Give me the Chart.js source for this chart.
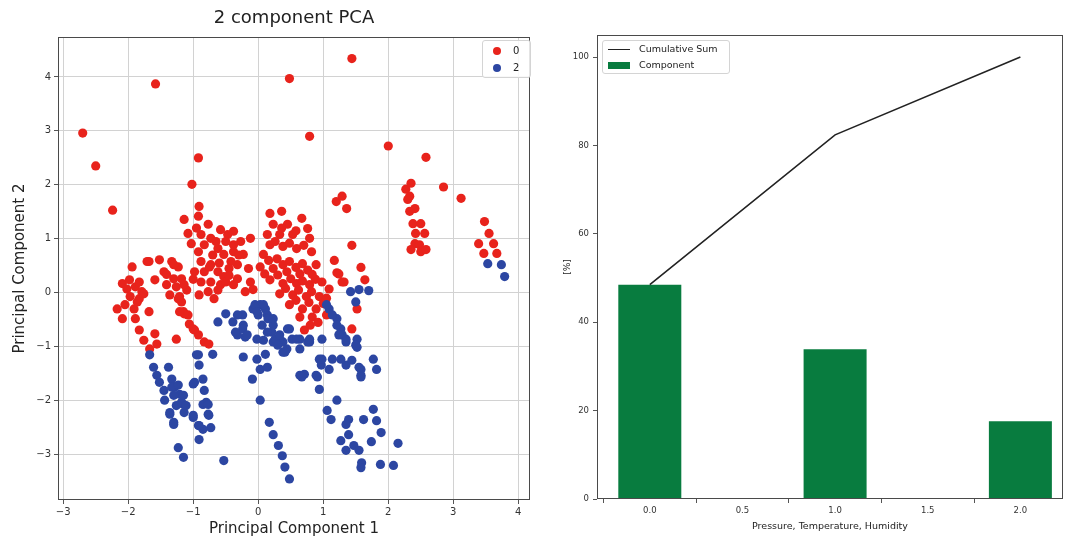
<!DOCTYPE html>
<html lang="en">
<head>
    <meta charset="UTF-8">
    <title>pca</title>
    <style>
        body { margin: 0; background: #fff; font-family: "DejaVu Sans", sans-serif; color: #222; }
        #app { position: relative; width: 1067px; height: 537px; overflow: hidden; }
        .panel { position: absolute; top: 0; }
        #pca_title { position: absolute; left: 58px; width: 472px; top: 6px; text-align: center; font-size: 18px; }
        .legend { position: absolute; background: rgba(255,255,255,0.85); border: 1px solid #d4d4d4; border-radius: 3px; font-size: 10px; }
        .legend div { height: 17px; line-height: 17px; white-space: nowrap; }
        .dot { display: inline-block; width: 8px; height: 8px; border-radius: 50%; margin: 0 12px 0 10px; vertical-align: -1px; }
        .swatch { display: inline-block; width: 22px; margin: 0 9px 0 5px; vertical-align: middle; }
    </style>
</head>
<body>
    <div id="app">
        <div class="panel" style="left:0;width:540px;height:537px">
            <canvas id="pca_chart" width="540" height="537"></canvas>
        </div>
        <div id="pca_title">2 component PCA</div>
        <div class="legend" id="pca_legend" style="left:482px;top:40px;width:47px;padding:1px 0"></div>

        <div class="panel" style="left:540px;width:527px;height:537px">
            <canvas id="var_chart" width="527" height="537"></canvas>
        </div>
        <div class="legend" id="var_legend" style="left:602px;top:40px;width:126px;padding:0;font-size:9.5px"></div>
    </div>

    <script src="https://cdn.jsdelivr.net/npm/chart.js"></script>

    <script>
        // left: PCA scatter, one list of [PC1, PC2] per target
        var classLabels = ['0', '2'];
        var classColors = ['#e8231c', '#2c46a2'];

        var class0Points = [
            [-2.70,2.96],[-2.50,2.35],[-2.24,1.53],[-1.58,3.87],[-0.92,2.50],[-1.02,2.01],[0.48,3.97],[1.44,4.34],[0.79,2.90],[2.00,2.72],[2.58,2.51],[2.85,1.96],[3.12,1.75],
            [2.35,2.03],[2.27,1.92],[2.33,1.79],[2.30,1.73],[2.41,1.56],[2.33,1.51],[2.38,1.28],[2.50,1.28],[2.42,1.10],[2.56,1.10],[2.41,0.91],[2.48,0.89],[2.35,0.80],[2.50,0.76],[2.58,0.80],
            [1.20,1.69],[1.29,1.79],[1.36,1.56],
            [3.48,1.32],[3.55,1.10],[3.39,0.91],[3.62,0.91],[3.47,0.73],[3.67,0.73],
            [1.44,0.88],[1.17,0.60],[1.21,0.37],[1.29,0.20],[1.58,0.47],[1.64,0.24],[1.52,-0.30],[1.44,-0.67],[0.71,-0.69],[1.24,0.35],[1.32,0.20],
            [0.23,1.27],[0.45,1.27],[0.67,1.38],[0.76,1.19],[0.14,1.08],[0.33,1.08],[0.53,1.08],[0.79,1.01],[0.18,0.89],[0.38,0.86],[0.59,0.82],[0.82,0.76],[0.08,0.71],[0.29,0.63],[0.48,0.58],[0.68,0.54],[0.89,0.52],[0.03,0.48],[0.23,0.45],[0.44,0.39],[0.64,0.35],[0.83,0.34],[0.98,0.20],[0.18,0.24],[0.38,0.17],[0.59,0.17],[0.79,0.15],[0.33,-0.02],[0.53,-0.04],[0.74,-0.07],[0.94,-0.07],[1.09,0.07],[0.48,-0.22],[0.68,-0.30],[0.89,-0.30],[0.64,-0.45],[0.83,-0.45],[1.05,-0.41],
            [0.36,1.20],[0.58,1.15],[0.26,0.95],[0.48,0.92],[0.70,0.88],[0.16,0.60],[0.38,0.52],[0.58,0.47],[0.76,0.42],[0.10,0.35],[0.30,0.33],[0.50,0.26],[0.68,0.22],[0.88,0.25],[0.42,0.08],[0.62,0.05],[0.82,0.02],[0.58,-0.14],[0.78,-0.18],[1.00,-0.20],[0.92,-0.55],[0.80,-0.60],[1.05,-0.10],[0.18,1.47],[0.36,1.51],
            [-0.38,1.14],[-0.27,0.95],[-0.12,1.01],[-0.38,0.76],[-0.23,0.71],[-0.32,0.52],[-0.15,0.45],[-0.32,0.26],[-0.12,0.20],[-0.20,0.02],[-0.08,0.06],
            [-0.91,1.60],[-1.14,1.36],[-0.92,1.42],[-0.77,1.27],[-1.08,1.10],[-0.88,1.08],[-1.03,0.91],[-0.73,1.01],[-0.92,0.76],[-0.83,0.89],[-0.58,1.17],[-0.47,1.08],[-0.38,0.89],[-0.62,0.82],[-0.53,0.71],[-0.88,0.58],[-0.73,0.52],[-0.83,0.39],[-0.98,0.39],[-0.62,0.39],[-0.53,0.30],[-0.42,0.58],[-0.38,0.15],[-0.58,0.15],[-0.73,0.20],[-0.88,0.20],[-0.77,0.02],[-0.91,-0.04],[-0.68,-0.11],
            [-0.95,1.20],[-0.65,0.95],[-0.50,0.95],[-0.70,0.70],[-0.45,0.45],[-0.60,0.55],[-0.30,0.70],[-0.75,0.48],[-0.50,0.20],[-0.62,0.05],[-0.45,0.32],[-1.00,0.25],[-1.10,0.05],
            [-1.68,0.58],[-1.52,0.61],[-1.33,0.58],[-1.23,0.48],[-1.94,0.48],[-1.45,0.39],[-1.30,0.26],[-1.18,0.26],[-1.59,0.24],[-1.41,0.15],[-1.26,0.11],[-1.14,0.15],[-1.21,-0.07],[-1.18,-0.17],[-1.15,-0.35],[-1.08,-0.41],[-1.06,-0.58],[-0.98,-0.69],[-0.92,-0.78],[-0.83,-0.91],[-0.76,-0.95],[-1.26,-0.86],
            [-2.09,0.17],[-2.02,0.07],[-1.89,0.11],[-1.97,-0.07],[-1.83,-0.11],[-1.79,0.02],[-2.05,-0.22],[-1.91,-0.30],[-2.17,-0.30],[-1.68,-0.35],[-2.09,-0.48],[-1.89,-0.48],[-1.83,-0.69],[-1.76,-0.88],[-1.59,-0.76],[-1.56,-0.95],[-1.67,-1.04],
            [-1.71,0.58],[-1.30,0.52],[-1.98,0.24],[-1.83,0.20],[-1.76,-0.02],[-1.86,-0.17],[-1.41,0.34],[-1.36,-0.04],[-1.23,-0.11],[-1.14,-0.39],[-1.00,-0.67],[-1.21,-0.35]
        ];

        var class2Points = [
            [3.53,0.54],[3.74,0.52],[3.79,0.30],
            [1.42,0.02],[1.50,-0.17],[1.70,0.04],[1.55,0.06],[1.09,-0.30],[1.21,-0.48],[1.27,-0.67],[1.35,-0.86],[1.52,-0.86],[1.52,-1.01],[1.77,-1.23],[1.82,-1.42],[1.58,-1.42],[1.58,-1.53],[1.35,-1.34],[1.27,-1.23],[1.14,-1.23],[0.94,-1.23],[0.97,-1.34],[0.89,-1.53],[0.64,-1.53],[0.71,-1.51],[0.94,-1.79],[1.21,-1.99],[1.06,-2.18],[1.12,-2.35],[1.39,-2.35],[1.35,-2.44],[1.62,-2.35],[1.77,-2.16],[1.82,-2.37],[1.89,-2.59],[1.39,-2.63],[1.27,-2.74],[1.47,-2.83],[1.55,-2.92],[1.35,-2.92],[1.74,-2.76],[2.15,-2.79],[1.59,-3.15],[1.58,-3.24],[1.88,-3.18],[2.08,-3.20],
            [0.64,-0.86],[0.64,-1.04],[0.79,-0.91],[0.48,-0.67],[0.38,-0.91],[0.38,-1.10],
            [0.03,-1.99],[0.17,-2.40],[0.23,-2.63],[0.31,-2.83],[0.37,-3.02],[0.41,-3.23],[0.48,-3.45],
            [-0.09,-1.60],[-0.02,-1.23],[-0.23,-1.19],[0.67,-1.56],[0.91,-1.56],[0.03,-1.42],[0.14,-1.38],[0.11,-1.14],[0.76,-0.91],[0.23,-0.60],[0.14,-0.41],[-0.08,-0.30],[0.03,-0.22],[0.23,-0.91],[0.33,-0.86],[0.44,-1.04],[-0.02,-0.86],[0.08,-0.88],[-0.23,-0.60],[-0.24,-0.41],[1.05,-0.22],[1.14,-0.41],[1.21,-0.60],[1.29,-0.78],[0.98,-1.23],[1.09,-1.42],[1.44,-1.25],[1.55,-1.38],[1.58,-1.56],
            [-1.67,-1.15],[-1.61,-1.38],[-1.56,-1.53],[-1.52,-1.66],[-1.45,-1.81],[-1.44,-1.99],[-1.36,-2.22],[-1.30,-2.40],[-1.38,-1.38],[-1.33,-1.60],[-1.29,-1.75],[-1.21,-1.88],[-1.15,-2.07],[-1.14,-2.22],[-1.00,-2.31],[-0.92,-2.46],[-0.73,-2.50],[-0.91,-2.72],[-1.23,-2.87],[-1.15,-3.05],[-0.53,-3.11],[-0.92,-1.15],[-0.91,-1.34],[-0.98,-1.66],[-0.85,-1.60],[-0.83,-1.81],[-0.80,-2.03],[-0.85,-2.07],[-0.77,-2.25],[-0.70,-1.14],[-0.32,-0.78],[-0.20,-0.82],
            [-0.62,-0.54],[-0.50,-0.39],[-0.39,-0.54],[-0.32,-0.41],[-0.24,-0.67],[-0.17,-0.78],[-0.35,-0.73],[-0.05,-0.22],[0.00,-0.41],[0.06,-0.60],[0.11,-0.30],[0.15,-0.48],[0.21,-0.73],[0.26,-0.86],[0.30,-0.97],[0.41,-1.10],[0.45,-0.67],[0.52,-0.86],
            [-1.33,-1.75],[-1.30,-1.90],[-1.26,-2.09],[-1.18,-2.03],[-1.36,-2.25],[-1.30,-2.44],[-1.00,-2.27],[-1.23,-1.71],[-1.15,-1.90],[-1.11,-2.09],[-0.85,-2.53],[-0.95,-1.15],[-0.91,-2.46],[-1.00,-1.69],[-0.77,-2.07],[-0.76,-2.27],
            [0.08,-0.22],[-0.02,-0.35],[0.23,-0.48],[0.14,-0.73],[0.33,-0.78],[0.59,-0.86],[0.79,-0.86],[0.98,-0.86],[1.24,-0.78],[1.35,-0.91],[1.50,-0.97]
        ];

        var pcaXTicks = [-3, -2, -1, 0, 1, 2, 3, 4];
        var pcaYTicks = [-3, -2, -1, 0, 1, 2, 3, 4];

        // right: explained variance per component
        var componentX = [0, 1, 2];
        var componentPct = [48.5, 33.9, 17.6];
        var cumulativePct = [48.5, 82.4, 100];
        var varXTicks = [0, 0.5, 1, 1.5, 2];
        var varYTicks = [0, 20, 40, 60, 80, 100];
        var varSeries = ['Cumulative Sum', 'Component'];
        var barColor = '#087c3f';

        var font = 'DejaVu Sans';
        Chart.defaults.font.family = font;
        Chart.defaults.color = '#333';

        function minus(v) {
            return String(v).replace('-', '\u2212');
        }

        // matplotlib style box around the plot area
        var framePlugin = {
            id: 'frame',
            afterDraw: function (chart) {
                var a = chart.chartArea, ctx = chart.ctx;
                ctx.save();
                ctx.strokeStyle = '#4a4a4a';
                ctx.lineWidth = 1;
                ctx.strokeRect(a.left + 0.5, a.top + 0.5, a.right - a.left - 1, a.bottom - a.top - 1);
                ctx.restore();
            }
        };

        function toXY(list) {
            return list.map(function (p) { return {x: p[0], y: p[1]}; });
        }

        new Chart(document.getElementById('pca_chart'), {
            type: 'scatter',
            data: {
                datasets: [{
                    label: classLabels[0],
                    data: toXY(class0Points),
                    backgroundColor: classColors[0],
                    borderWidth: 0,
                    pointRadius: 4.6,
                    order: 1
                }, {
                    label: classLabels[1],
                    data: toXY(class2Points),
                    backgroundColor: classColors[1],
                    borderWidth: 0,
                    pointRadius: 4.6,
                    order: 0
                }]
            },
            options: {
                responsive: false,
                animation: false,
                devicePixelRatio: 1,
                layout: { padding: { left: 0, top: 37, right: 10, bottom: 0 } },
                plugins: { legend: { display: false }, tooltip: { enabled: false } },
                scales: {
                    x: {
                        type: 'linear',
                        min: -3.08,
                        max: 4.18,
                        afterBuildTicks: function (s) { s.ticks = pcaXTicks.map(function (v) { return {value: v}; }); },
                        afterFit: function (s) { s.height = 37; },
                        grid: { color: '#d2d2d2', tickColor: '#555', tickLength: 4 },
                        border: { display: false },
                        ticks: { padding: 2, font: { size: 10 }, callback: function (v) { return minus(v); } },
                        title: { display: true, text: 'Principal Component 1', font: { size: 15 }, color: '#222', padding: { top: 0, bottom: -1 } }
                    },
                    y: {
                        type: 'linear',
                        min: -3.84,
                        max: 4.74,
                        afterBuildTicks: function (s) { s.ticks = pcaYTicks.map(function (v) { return {value: v}; }); },
                        afterFit: function (s) { s.width = 58; },
                        grid: { color: '#d2d2d2', tickColor: '#555', tickLength: 4 },
                        border: { display: false },
                        ticks: { padding: 3, font: { size: 10 }, callback: function (v) { return minus(v); } },
                        title: { display: true, text: 'Principal Component 2', font: { size: 15 }, color: '#222', padding: { top: 11, bottom: 0 } }
                    }
                }
            },
            plugins: [framePlugin]
        });

        new Chart(document.getElementById('var_chart'), {
            type: 'bar',
            data: {
                datasets: [{
                    type: 'line',
                    label: varSeries[0],
                    data: componentX.map(function (x, i) { return {x: x, y: cumulativePct[i]}; }),
                    borderColor: '#222',
                    borderWidth: 1.6,
                    pointRadius: 0,
                    order: 0
                }, {
                    type: 'bar',
                    label: varSeries[1],
                    data: componentX.map(function (x, i) { return {x: x, y: componentPct[i]}; }),
                    backgroundColor: barColor,
                    // ruler spacing follows the 0.5 ticks, so 0.68 of that = 0.34 data units
                    categoryPercentage: 1,
                    barPercentage: 0.68,
                    order: 1
                }]
            },
            options: {
                responsive: false,
                animation: false,
                devicePixelRatio: 1,
                layout: { padding: { left: 0, top: 35, right: 4, bottom: 0 } },
                plugins: { legend: { display: false }, tooltip: { enabled: false } },
                scales: {
                    x: {
                        type: 'linear',
                        min: -0.285,
                        max: 2.23,
                        offset: false,
                        afterBuildTicks: function (s) { s.ticks = varXTicks.map(function (v) { return {value: v}; }); },
                        afterFit: function (s) { s.height = 38; },
                        grid: { drawOnChartArea: false, tickColor: '#555', tickLength: 4 },
                        border: { display: false },
                        ticks: { padding: 3, font: { size: 8.5 }, callback: function (v) { return v.toFixed(1); } },
                        title: { display: true, text: 'Pressure, Temperature, Humidity', font: { size: 9.5 }, color: '#222', padding: { top: 0, bottom: 5 } }
                    },
                    y: {
                        type: 'linear',
                        min: 0,
                        max: 105,
                        afterBuildTicks: function (s) { s.ticks = varYTicks.map(function (v) { return {value: v}; }); },
                        afterFit: function (s) { s.width = 57; },
                        grid: { drawOnChartArea: false, tickColor: '#555', tickLength: 4 },
                        border: { display: false },
                        ticks: { padding: 4, font: { size: 8.5 } },
                        title: { display: true, text: '[%]', font: { size: 9 }, color: '#222', padding: { top: 22, bottom: 0 } }
                    }
                }
            },
            plugins: [framePlugin]
        });

        // legends drawn inside the axes, like matplotlib
        var pcaLegend = document.getElementById('pca_legend');
        classLabels.forEach(function (name, i) {
            var row = document.createElement('div');
            row.innerHTML = '<span class="dot" style="background:' + classColors[i] + '"></span>' + name;
            pcaLegend.appendChild(row);
        });

        var varLegend = document.getElementById('var_legend');
        varSeries.forEach(function (name, i) {
            var row = document.createElement('div');
            row.style.height = '16px';
            row.style.lineHeight = '16px';
            var sw = i === 0
                ? '<span class="swatch" style="height:0;border-top:1.6px solid #222"></span>'
                : '<span class="swatch" style="height:7px;background:' + barColor + '"></span>';
            row.innerHTML = sw + name;
            varLegend.appendChild(row);
        });
    </script>
</body>
</html>
